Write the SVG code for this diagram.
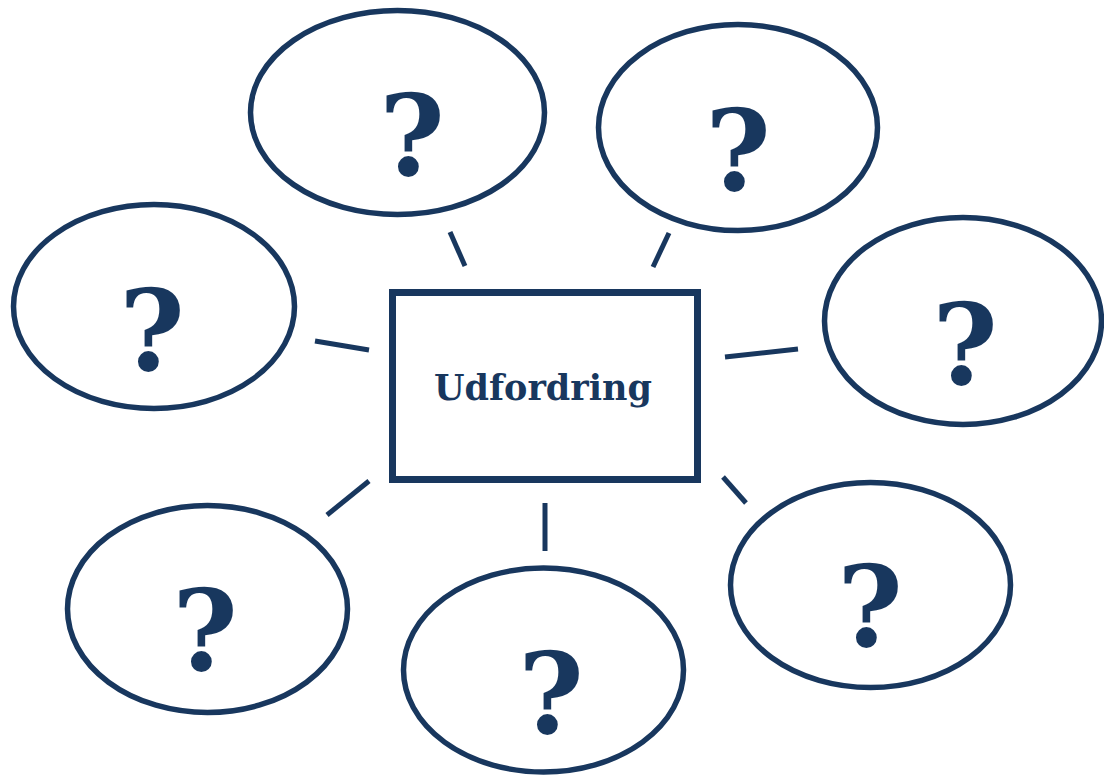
<svg xmlns="http://www.w3.org/2000/svg" width="1104" height="775" viewBox="0 0 1104 775">
<style>
.n{fill:#fff;stroke:#18375e;stroke-width:5.5}
.q{font-family:"DejaVu Serif","Liberation Serif",serif;font-weight:bold;font-size:112px;fill:#18375e;text-anchor:middle}
.c line{stroke:#18375e;stroke-width:5}
.t{font-family:"DejaVu Serif","Liberation Serif",serif;font-weight:bold;font-size:35px;fill:#18375e;text-anchor:middle}
</style>
<rect width="1104" height="775" fill="#fff"/>
<g class="c" id="connectors">
<line x1="450" y1="232" x2="465" y2="266"/>
<line x1="669" y1="233" x2="653" y2="267"/>
<line x1="315" y1="341" x2="369" y2="350"/>
<line x1="725" y1="357" x2="798" y2="349"/>
<line x1="327" y1="515" x2="369" y2="481"/>
<line x1="545" y1="503" x2="545" y2="551"/>
<line x1="723" y1="477" x2="746" y2="503"/>
</g>
<g id="center"><rect x="392.5" y="292.5" width="305" height="187" fill="#fff" stroke="#18375e" stroke-width="7"/><text class="t" x="543" y="400">Udfordring</text></g>
<g id="q1"><ellipse class="n" cx="397.5" cy="112.5" rx="147" ry="102"/><text class="q" x="412" y="175">?</text></g>
<g id="q2"><ellipse class="n" cx="738" cy="127.5" rx="139.5" ry="103"/><text class="q" x="738" y="190">?</text></g>
<g id="q3"><ellipse class="n" cx="154" cy="306.5" rx="140.5" ry="102"/><text class="q" x="152" y="370">?</text></g>
<g id="q4"><ellipse class="n" cx="963" cy="321" rx="138.5" ry="103.5"/><text class="q" x="965" y="384">?</text></g>
<g id="q5"><ellipse class="n" cx="207.5" cy="609" rx="140" ry="103.5"/><text class="q" x="205" y="670">?</text></g>
<g id="q6"><ellipse class="n" cx="543.5" cy="670" rx="140" ry="102"/><text class="q" x="551" y="733">?</text></g>
<g id="q7"><ellipse class="n" cx="870.5" cy="585" rx="140" ry="102.5"/><text class="q" x="870" y="646">?</text></g>
</svg>
